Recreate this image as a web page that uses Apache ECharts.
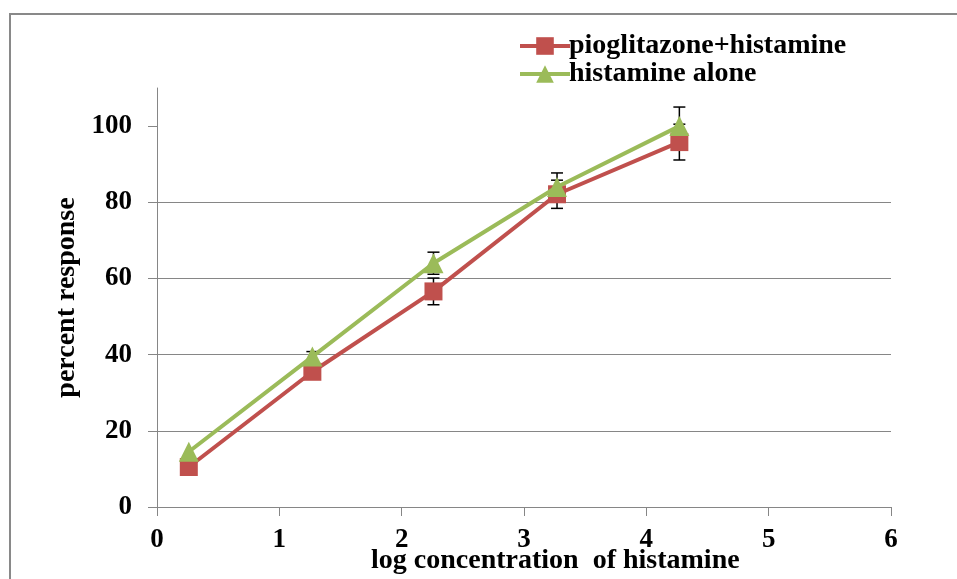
<!DOCTYPE html>
<html>
<head>
<meta charset="utf-8">
<script src="https://cdn.jsdelivr.net/npm/echarts@6/dist/echarts.min.js"></script>
<style>html,body{margin:0;padding:0;background:#fff}#c{width:957px;height:579px}</style>
</head>
<body>
<div id="c"></div>
<script>
const logConc = [0.26, 1.27, 2.26, 3.27, 4.27];
const pioHist = [10.5, 35.5, 56.6, 82.1, 95.8];
const pioHistErr = [0, 1, 3.5, 3.7, 4.7];
const histAlone = [14.5, 39.5, 64, 84, 100];
const histAloneErr = [0, 1.3, 2.9, 3.7, 5];
const yTicks = [0, 20, 40, 60, 80, 100];
const seriesNames = ['pioglitazone+histamine', 'histamine alone'];

const FONT = '"Liberation Serif", "Times New Roman", serif';
const pts = (xs, ys) => xs.map((x, i) => [x, ys[i]]);
const errData = (xs, ys, es) => xs.map((x, i) => [x, ys[i] - es[i], ys[i] + es[i]]).filter((d, i) => es[i] > 0);

function errRender(params, api) {
  const x = api.value(0);
  const lo = api.coord([x, api.value(1)]);
  const hi = api.coord([x, api.value(2)]);
  const w = 6;
  const st = { stroke: '#000', lineWidth: 1.5 };
  return {
    type: 'group',
    children: [
      { type: 'line', shape: { x1: lo[0], y1: lo[1], x2: hi[0], y2: hi[1] }, style: st },
      { type: 'line', shape: { x1: lo[0] - w, y1: lo[1], x2: lo[0] + w, y2: lo[1] }, style: st },
      { type: 'line', shape: { x1: hi[0] - w, y1: hi[1], x2: hi[0] + w, y2: hi[1] }, style: st }
    ]
  };
}

const chart = echarts.init(document.getElementById('c'), null, { renderer: 'canvas' });
chart.setOption({
  animation: false,
  backgroundColor: '#fff',
  textStyle: { fontFamily: FONT },
  grid: { left: 157, right: 66, top: 88, bottom: 72, containLabel: false },
  graphic: [
    { type: 'rect', shape: { x: 10, y: 14, width: 1200, height: 1000 }, style: { fill: null, stroke: '#898989', lineWidth: 2 }, z: -10 },
    { type: 'text', left: 371, top: 547, style: { text: 'log concentration  of histamine', font: 'bold 28px ' + FONT, fill: '#000' } }
  ],
  legend: {
    data: seriesNames,
    orient: 'vertical',
    left: 513,
    top: 27,
    itemWidth: 50,
    itemHeight: 22,
    itemGap: 0,
    lineStyle: { width: 4 },
    textStyle: { fontFamily: FONT, fontWeight: 'bold', fontSize: 28, color: '#000', padding: [0, 0, 0, -6] }
  },
  xAxis: {
    type: 'value', min: 0, max: 6, interval: 1,
    axisLine: { show: true, lineStyle: { color: '#868686', width: 1 } },
    axisTick: { show: true, inside: false, length: 9, lineStyle: { color: '#868686' } },
    splitLine: { show: false },
    axisLabel: { fontFamily: FONT, fontWeight: 'bold', fontSize: 27, color: '#000', margin: 20 }
  },
  yAxis: {
    type: 'value', min: 0, max: 110, interval: 20,
    name: 'percent response', nameLocation: 'middle', nameGap: 64,
    nameTextStyle: { fontFamily: FONT, fontWeight: 'bold', fontSize: 28, color: '#000' },
    axisLine: { show: true, lineStyle: { color: '#868686', width: 1 } },
    axisTick: { show: true, length: 9, lineStyle: { color: '#868686' }, customValues: yTicks },
    splitLine: { show: true, showMaxLine: false, lineStyle: { color: '#868686', width: 1 } },
    axisLabel: { fontFamily: FONT, fontWeight: 'bold', fontSize: 27, color: '#000', margin: 25, customValues: yTicks,
      formatter: v => (yTicks.indexOf(v) >= 0 ? String(v) : '') }
  },
  series: [
    { name: 'errPio', type: 'custom', renderItem: errRender, data: errData(logConc, pioHist, pioHistErr), z: 1, silent: true },
    { name: 'errHist', type: 'custom', renderItem: errRender, data: errData(logConc, histAlone, histAloneErr), z: 1, silent: true },
    {
      name: seriesNames[0], type: 'line', data: pts(logConc, pioHist), z: 3,
      symbol: 'rect', symbolSize: 18, showAllSymbol: true,
      lineStyle: { color: '#C0504D', width: 4 },
      itemStyle: { color: '#C0504D' }
    },
    {
      name: seriesNames[1], type: 'line', data: pts(logConc, histAlone), z: 4,
      symbol: 'triangle', symbolSize: 20, showAllSymbol: true,
      lineStyle: { color: '#9BBB59', width: 4 },
      itemStyle: { color: '#9BBB59' }
    }
  ]
});
</script>
</body>
</html>
